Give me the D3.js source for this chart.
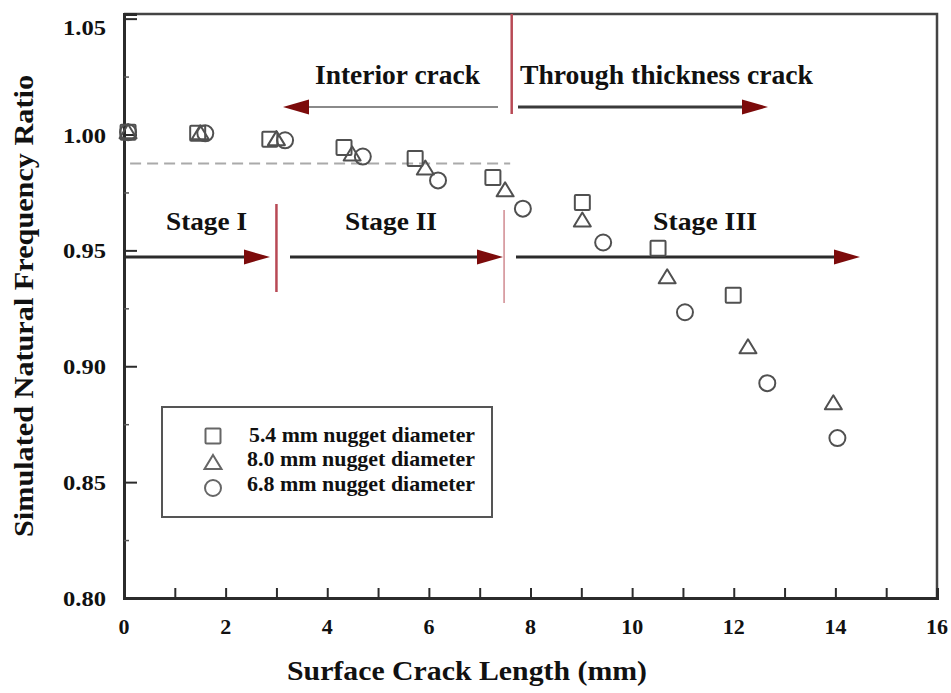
<!DOCTYPE html>
<html>
<head>
<meta charset="utf-8">
<script src="https://cdn.jsdelivr.net/npm/d3@7"></script>
<style>
  html, body { margin: 0; padding: 0; background: #fff; }
  svg { display: block; }
  text { font-family: "Liberation Serif", "Times New Roman", serif; font-weight: bold; fill: #111; }
</style>
</head>
<body>
<svg id="chart" width="951" height="693"></svg>
<script>
// ---- data ----
const xSquare   = [0.08, 1.45, 2.87, 4.33, 5.73, 7.26, 9.02, 10.51, 11.99];
const ySquare   = [1.001, 1.0005, 0.998, 0.9944, 0.9897, 0.9815, 0.9707, 0.9509, 0.9306];
const xTriangle = [0.08, 1.50, 3.00, 4.49, 5.93, 7.50, 9.02, 10.69, 12.28, 13.96];
const yTriangle = [1.001, 1.0005, 0.998, 0.9914, 0.9853, 0.9759, 0.9629, 0.9384, 0.9082, 0.884];
const xCircle   = [0.08, 1.60, 3.17, 4.70, 6.18, 7.85, 9.43, 11.04, 12.66, 14.04];
const yCircle   = [1.001, 1.0005, 0.9975, 0.9905, 0.9802, 0.968, 0.9534, 0.9233, 0.8927, 0.869];
const seriesNames = ["5.4 mm nugget diameter", "8.0 mm nugget diameter", "6.8 mm nugget diameter"];
const xTickValues = [0, 2, 4, 6, 8, 10, 12, 14, 16];
const yTickValues = [0.80, 0.85, 0.90, 0.95, 1.00, 1.05];
const xTitle = "Surface Crack Length (mm)";
const yTitle = "Simulated Natural Frequency Ratio";
const stageLabels = ["Stage I", "Stage II", "Stage III"];
const stageBounds = [0, 3.0, 7.48, 14.5];
const crackLabels = ["Interior crack", "Through thickness crack"];
const crackBoundary = 7.63;
const dashedLevel = 0.9875;

// ---- layout ----
const svg = d3.select("#chart");
const L = 124, R = 937, T = 14, B = 598;
const x = d3.scaleLinear().domain([0, 16]).range([L, R]);
const y = d3.scaleLinear().domain([0.80, 1.052]).range([B, T]);

const dark = "#2b2b2b";
const red = "#b84955";
const arrowRed = "#7c0b0b";
const mk = "#505050";

// frame
svg.append("path")
  .attr("d", `M${L},${T} H${R} V${B}`)
  .attr("fill", "none").attr("stroke", "#444").attr("stroke-width", 2.5);

// x axis
const xAxis = d3.axisBottom(x).tickValues(d3.range(0, 16, 1)).tickSize(-10).tickFormat("");
const gx = svg.append("g").attr("transform", `translate(0,${B})`).call(xAxis);
gx.select(".domain").attr("stroke", dark).attr("stroke-width", 3);
gx.selectAll(".tick line").attr("stroke", dark).attr("stroke-width", 2);
svg.append("g").selectAll("text").data(xTickValues).join("text")
  .attr("x", d => x(d)).attr("y", B + 36)
  .attr("text-anchor", "middle").attr("font-size", 22)
  .text(d => d);

// y axis
const yMinor = d3.range(0.825, 1.05, 0.05);
const yAxis = d3.axisLeft(y).tickValues(yTickValues).tickSize(-13).tickFormat("");
const gy = svg.append("g").attr("transform", `translate(${L},0)`).call(yAxis);
gy.select(".domain").attr("stroke", dark).attr("stroke-width", 3);
gy.selectAll(".tick line").attr("stroke", dark).attr("stroke-width", 2);
svg.append("g").attr("transform", `translate(${L},0)`)
  .call(d3.axisLeft(y).tickValues(yMinor).tickSize(-5).tickFormat(""))
  .call(g => g.select(".domain").remove())
  .selectAll(".tick line").attr("stroke", "#555").attr("stroke-width", 1.5);
svg.append("g").selectAll("text").data(yTickValues).join("text")
  .attr("x", 106).attr("y", d => y(d) + (d === 1.05 ? 16 : 8))
  .attr("text-anchor", "end").attr("font-size", 22)
  .attr("textLength", 43).attr("lengthAdjust", "spacingAndGlyphs")
  .text(d => d3.format(".2f")(d));

// axis titles
svg.append("text").attr("x", (287 + 647) / 2).attr("y", 680)
  .attr("text-anchor", "middle").attr("font-size", 27)
  .attr("textLength", 360).attr("lengthAdjust", "spacingAndGlyphs")
  .text(xTitle);
svg.append("text").attr("transform", `translate(33,${(75 + 537) / 2}) rotate(-90)`)
  .attr("text-anchor", "middle").attr("font-size", 27)
  .attr("textLength", 462).attr("lengthAdjust", "spacingAndGlyphs")
  .text(yTitle);

// dashed reference line
svg.append("line")
  .attr("x1", x(0.12)).attr("x2", x(7.6))
  .attr("y1", y(dashedLevel)).attr("y2", y(dashedLevel))
  .attr("stroke", "#aaa").attr("stroke-width", 2).attr("stroke-dasharray", "11,6");

// arrow helper
function arrow(x1, x2, yy, lineColor, width, headColor) {
  const dir = Math.sign(x2 - x1);
  const hl = 26, hw = 7.5;
  svg.append("line").attr("x1", x1).attr("x2", x2 - dir * hl + dir * 2)
    .attr("y1", yy).attr("y2", yy)
    .attr("stroke", lineColor).attr("stroke-width", width);
  svg.append("path")
    .attr("d", `M${x2},${yy} L${x2 - dir * hl},${yy - hw} L${x2 - dir * hl},${yy + hw} Z`)
    .attr("fill", headColor);
}

// crack-type annotation
svg.append("line").attr("x1", x(crackBoundary)).attr("x2", x(crackBoundary))
  .attr("y1", T).attr("y2", 114).attr("stroke", red).attr("stroke-width", 2.5);
arrow(498, 283, 107, "#8a8a8a", 2, arrowRed);
arrow(518, 768, 107, "#3a3a3a", 3, arrowRed);
svg.append("text").attr("x", 315).attr("y", 84).attr("font-size", 27)
  .attr("textLength", 165).attr("lengthAdjust", "spacingAndGlyphs").text(crackLabels[0]);
svg.append("text").attr("x", 520).attr("y", 84).attr("font-size", 27)
  .attr("textLength", 293).attr("lengthAdjust", "spacingAndGlyphs").text(crackLabels[1]);

// stage annotation
const stageY = 257;
svg.append("line").attr("x1", x(stageBounds[1])).attr("x2", x(stageBounds[1]))
  .attr("y1", 204).attr("y2", 292).attr("stroke", red).attr("stroke-width", 2.5);
svg.append("line").attr("x1", x(stageBounds[2])).attr("x2", x(stageBounds[2]))
  .attr("y1", 210).attr("y2", 303).attr("stroke", "#d08a90").attr("stroke-width", 1.5);
arrow(L, 270, stageY, dark, 3, arrowRed);
arrow(290, 503, stageY, dark, 3, arrowRed);
arrow(516, 860, stageY, dark, 3, arrowRed);
svg.append("text").attr("x", 166).attr("y", 230).attr("font-size", 26)
  .attr("textLength", 81).attr("lengthAdjust", "spacingAndGlyphs").text(stageLabels[0]);
svg.append("text").attr("x", 345).attr("y", 230).attr("font-size", 26)
  .attr("textLength", 92).attr("lengthAdjust", "spacingAndGlyphs").text(stageLabels[1]);
svg.append("text").attr("x", 653).attr("y", 230).attr("font-size", 26)
  .attr("textLength", 104).attr("lengthAdjust", "spacingAndGlyphs").text(stageLabels[2]);

// markers
const triPath = "M0,-8 L8.5,6 L-8.5,6 Z";
function drawSquares(g, xs, ys, color) {
  g.selectAll("rect").data(xs.map((v, i) => [v, ys[i]])).join("rect")
    .attr("x", d => x(d[0]) - 7.5).attr("y", d => y(d[1]) - 7.5)
    .attr("width", 15).attr("height", 15).attr("rx", 1)
    .attr("fill", "none").attr("stroke", color).attr("stroke-width", 2);
}
function drawTriangles(g, xs, ys, color) {
  g.selectAll("path").data(xs.map((v, i) => [v, ys[i]])).join("path")
    .attr("d", triPath)
    .attr("transform", d => `translate(${x(d[0])},${y(d[1])})`)
    .attr("fill", "none").attr("stroke", color).attr("stroke-width", 2).attr("stroke-linejoin", "round");
}
function drawCircles(g, xs, ys, color) {
  g.selectAll("circle").data(xs.map((v, i) => [v, ys[i]])).join("circle")
    .attr("cx", d => x(d[0])).attr("cy", d => y(d[1])).attr("r", 8)
    .attr("fill", "none").attr("stroke", color).attr("stroke-width", 2);
}
drawSquares(svg.append("g"), xSquare, ySquare, mk);
drawTriangles(svg.append("g"), xTriangle, yTriangle, mk);
drawCircles(svg.append("g"), xCircle, yCircle, mk);

// legend
const lg = svg.append("g");
lg.append("rect").attr("x", 162).attr("y", 407).attr("width", 330).attr("height", 110)
  .attr("fill", "#fff").attr("stroke", "#555").attr("stroke-width", 2);
const legY = [436, 463, 488];
lg.append("rect").attr("x", 213 - 7.5).attr("y", legY[0] - 7.5).attr("width", 15).attr("height", 15).attr("rx", 1)
  .attr("fill", "none").attr("stroke", "#666").attr("stroke-width", 2);
lg.append("path").attr("d", triPath).attr("transform", `translate(213,${legY[1]})`)
  .attr("fill", "none").attr("stroke", "#666").attr("stroke-width", 2);
lg.append("circle").attr("cx", 213).attr("cy", legY[2]).attr("r", 8)
  .attr("fill", "none").attr("stroke", "#666").attr("stroke-width", 2);
lg.selectAll("text").data(seriesNames).join("text")
  .attr("x", (d, i) => i === 0 ? 249 : 247)
  .attr("y", (d, i) => [442, 466, 491][i])
  .attr("font-size", 21.5)
  .attr("textLength", (d, i) => i === 0 ? 226 : 228).attr("lengthAdjust", "spacingAndGlyphs")
  .text(d => d);
</script>
</body>
</html>
